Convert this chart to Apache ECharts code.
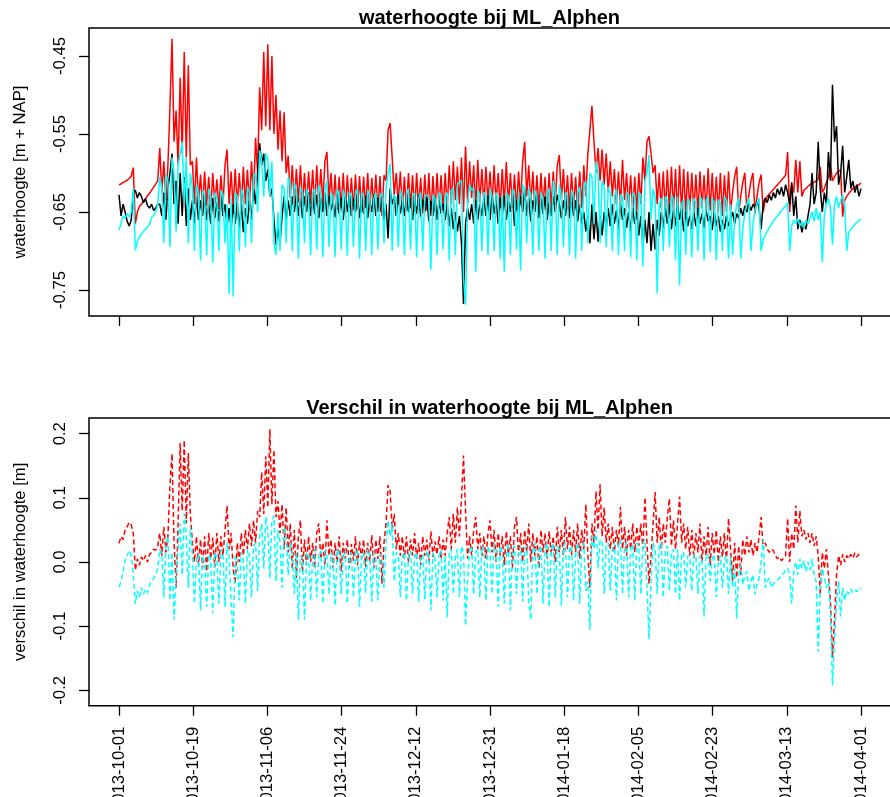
<!DOCTYPE html>
<html><head><meta charset="utf-8">
<script src="https://cdn.jsdelivr.net/npm/echarts@6/dist/echarts.min.js"></script>
<style>html,body{margin:0;padding:0;background:#fff}#c{width:890px;height:797px}</style>
</head><body><div id="c"></div>
<script>
// ---- data (sampled every 12 hours from 2013-10-01) ----
const startDate = '2013-10-01';
const stepDays = 0.5;

const redTop = [
-0.615,-0.614,-0.612,-0.611,-0.609,-0.607,-0.604,-0.593,-0.665,-0.650,-0.643,-0.640,-0.636,-0.633,-0.629,-0.626,-0.622,-0.618,-0.614,-0.610,
-0.568,-0.625,-0.585,-0.635,-0.590,-0.515,-0.428,-0.560,-0.520,-0.590,-0.478,-0.575,-0.445,-0.580,-0.462,-0.590,-0.585,-0.640,-0.580,-0.638,
-0.602,-0.645,-0.598,-0.642,-0.605,-0.648,-0.600,-0.640,-0.608,-0.646,-0.603,-0.642,-0.590,-0.570,-0.640,-0.598,-0.645,-0.595,-0.642,-0.600,
-0.645,-0.592,-0.640,-0.596,-0.642,-0.585,-0.630,-0.555,-0.600,-0.490,-0.545,-0.445,-0.540,-0.435,-0.545,-0.450,-0.550,-0.500,-0.570,-0.520,
-0.585,-0.522,-0.600,-0.578,-0.632,-0.590,-0.640,-0.595,-0.638,-0.590,-0.642,-0.600,-0.645,-0.598,-0.640,-0.596,-0.645,-0.590,-0.638,-0.595,
-0.640,-0.585,-0.573,-0.635,-0.600,-0.645,-0.602,-0.648,-0.605,-0.645,-0.600,-0.650,-0.603,-0.645,-0.606,-0.648,-0.602,-0.646,-0.604,-0.650,
-0.605,-0.645,-0.600,-0.648,-0.606,-0.644,-0.602,-0.650,-0.604,-0.655,-0.603,-0.610,-0.545,-0.536,-0.580,-0.628,-0.600,-0.640,-0.598,-0.645,
-0.605,-0.648,-0.600,-0.645,-0.603,-0.650,-0.600,-0.646,-0.606,-0.652,-0.602,-0.648,-0.600,-0.655,-0.604,-0.650,-0.600,-0.645,-0.603,-0.648,
-0.600,-0.645,-0.590,-0.640,-0.585,-0.635,-0.592,-0.640,-0.580,-0.650,-0.566,-0.640,-0.585,-0.632,-0.590,-0.645,-0.583,-0.638,-0.595,-0.640,
-0.592,-0.638,-0.598,-0.642,-0.590,-0.640,-0.600,-0.645,-0.595,-0.640,-0.586,-0.642,-0.600,-0.645,-0.602,-0.648,-0.598,-0.640,-0.585,-0.560,
-0.630,-0.590,-0.640,-0.598,-0.645,-0.603,-0.648,-0.600,-0.645,-0.605,-0.650,-0.600,-0.645,-0.598,-0.640,-0.590,-0.577,-0.635,-0.595,-0.642,
-0.603,-0.648,-0.600,-0.645,-0.605,-0.650,-0.598,-0.645,-0.590,-0.630,-0.575,-0.545,-0.514,-0.560,-0.600,-0.568,-0.610,-0.570,-0.615,-0.575,
-0.625,-0.585,-0.630,-0.595,-0.640,-0.598,-0.642,-0.583,-0.635,-0.600,-0.645,-0.603,-0.648,-0.605,-0.650,-0.600,-0.640,-0.580,-0.610,-0.560,
-0.553,-0.575,-0.600,-0.590,-0.640,-0.600,-0.645,-0.598,-0.650,-0.596,-0.648,-0.592,-0.650,-0.595,-0.655,-0.590,-0.650,-0.595,-0.652,-0.598,
-0.648,-0.600,-0.650,-0.602,-0.652,-0.598,-0.645,-0.603,-0.650,-0.594,-0.648,-0.600,-0.652,-0.605,-0.650,-0.600,-0.655,-0.603,-0.650,-0.598,
-0.650,-0.625,-0.605,-0.592,-0.650,-0.630,-0.612,-0.600,-0.648,-0.628,-0.610,-0.600,-0.652,-0.630,-0.612,-0.602,-0.650,-0.635,-0.630,-0.627,
-0.624,-0.621,-0.618,-0.615,-0.612,-0.609,-0.606,-0.603,-0.573,-0.650,-0.615,-0.625,-0.583,-0.625,-0.585,-0.630,-0.622,-0.620,-0.617,-0.615,
-0.613,-0.612,-0.610,-0.608,-0.592,-0.625,-0.620,-0.612,-0.606,-0.590,-0.610,-0.605,-0.600,-0.598,-0.596,-0.656,-0.635,-0.630,-0.626,-0.623,-0.620,-0.618,-0.616,-0.615,-0.613
];

const blackTop = [
-0.628,-0.655,-0.640,-0.650,-0.662,-0.668,-0.660,-0.625,-0.622,-0.632,-0.625,-0.630,-0.638,-0.633,-0.642,-0.645,-0.640,-0.648,-0.645,-0.640,
-0.640,-0.655,-0.625,-0.660,-0.620,-0.600,-0.575,-0.640,-0.610,-0.665,-0.600,-0.655,-0.605,-0.668,-0.620,-0.660,-0.635,-0.665,-0.630,-0.660,
-0.635,-0.655,-0.630,-0.660,-0.640,-0.665,-0.632,-0.658,-0.638,-0.662,-0.630,-0.655,-0.640,-0.668,-0.645,-0.672,-0.640,-0.665,-0.638,-0.670,
-0.640,-0.676,-0.645,-0.665,-0.635,-0.660,-0.620,-0.640,-0.600,-0.562,-0.590,-0.575,-0.610,-0.595,-0.630,-0.620,-0.660,-0.692,-0.670,-0.690,
-0.655,-0.630,-0.660,-0.635,-0.655,-0.630,-0.650,-0.628,-0.655,-0.632,-0.658,-0.630,-0.650,-0.625,-0.655,-0.630,-0.652,-0.628,-0.658,-0.632,
-0.650,-0.625,-0.655,-0.630,-0.648,-0.635,-0.657,-0.628,-0.652,-0.632,-0.660,-0.630,-0.650,-0.627,-0.655,-0.633,-0.650,-0.628,-0.658,-0.635,
-0.652,-0.630,-0.658,-0.635,-0.650,-0.628,-0.655,-0.632,-0.650,-0.630,-0.660,-0.640,-0.684,-0.620,-0.640,-0.630,-0.655,-0.628,-0.652,-0.635,
-0.655,-0.630,-0.650,-0.632,-0.660,-0.635,-0.652,-0.628,-0.656,-0.634,-0.650,-0.630,-0.662,-0.636,-0.655,-0.630,-0.660,-0.635,-0.652,-0.640,
-0.660,-0.640,-0.668,-0.645,-0.672,-0.650,-0.675,-0.655,-0.690,-0.768,-0.665,-0.645,-0.660,-0.640,-0.665,-0.635,-0.660,-0.640,-0.655,-0.632,
-0.655,-0.630,-0.660,-0.628,-0.652,-0.635,-0.665,-0.632,-0.655,-0.630,-0.660,-0.636,-0.650,-0.628,-0.668,-0.635,-0.655,-0.630,-0.650,-0.620,
-0.655,-0.632,-0.662,-0.635,-0.650,-0.628,-0.658,-0.633,-0.652,-0.630,-0.660,-0.638,-0.655,-0.630,-0.650,-0.628,-0.640,-0.658,-0.635,-0.655,
-0.632,-0.658,-0.630,-0.655,-0.635,-0.662,-0.640,-0.665,-0.650,-0.675,-0.655,-0.690,-0.640,-0.685,-0.650,-0.688,-0.655,-0.680,-0.650,-0.670,
-0.645,-0.668,-0.640,-0.665,-0.648,-0.672,-0.640,-0.660,-0.645,-0.670,-0.650,-0.675,-0.645,-0.665,-0.650,-0.680,-0.655,-0.695,-0.660,-0.690,
-0.650,-0.700,-0.665,-0.698,-0.660,-0.680,-0.650,-0.670,-0.645,-0.665,-0.640,-0.672,-0.648,-0.668,-0.640,-0.660,-0.645,-0.675,-0.650,-0.668,
-0.655,-0.672,-0.650,-0.668,-0.645,-0.665,-0.652,-0.670,-0.648,-0.662,-0.655,-0.673,-0.650,-0.668,-0.655,-0.675,-0.660,-0.672,-0.655,-0.668,
-0.660,-0.650,-0.665,-0.652,-0.658,-0.645,-0.655,-0.642,-0.650,-0.640,-0.648,-0.640,-0.645,-0.636,-0.645,-0.672,-0.640,-0.632,-0.638,-0.628,
-0.635,-0.625,-0.632,-0.620,-0.628,-0.618,-0.630,-0.615,-0.625,-0.640,-0.612,-0.655,-0.630,-0.672,-0.660,-0.676,-0.665,-0.672,-0.655,-0.640,
-0.600,-0.640,-0.625,-0.560,-0.620,-0.650,-0.625,-0.640,-0.573,-0.610,-0.487,-0.560,-0.540,-0.615,-0.600,-0.565,-0.625,-0.605,-0.583,-0.620,-0.610,-0.625,-0.615,-0.630,-0.620
];

const cyanTop = [
-0.673,-0.665,-0.655,-0.658,-0.652,-0.656,-0.650,-0.620,-0.699,-0.688,-0.682,-0.678,-0.675,-0.672,-0.669,-0.666,-0.657,-0.654,-0.650,-0.640,
-0.605,-0.618,-0.690,-0.600,-0.612,-0.695,-0.580,-0.600,-0.675,-0.590,-0.575,-0.560,-0.640,-0.580,-0.690,-0.600,-0.618,-0.700,-0.615,-0.625,
-0.712,-0.622,-0.628,-0.705,-0.620,-0.630,-0.715,-0.625,-0.632,-0.700,-0.622,-0.628,-0.690,-0.640,-0.755,-0.632,-0.758,-0.625,-0.630,-0.700,
-0.620,-0.628,-0.695,-0.618,-0.625,-0.690,-0.605,-0.600,-0.650,-0.571,-0.585,-0.630,-0.575,-0.582,-0.630,-0.585,-0.690,-0.705,-0.650,-0.700,
-0.615,-0.620,-0.690,-0.605,-0.615,-0.700,-0.612,-0.622,-0.710,-0.618,-0.625,-0.690,-0.620,-0.630,-0.705,-0.625,-0.620,-0.698,-0.615,-0.628,
-0.708,-0.622,-0.610,-0.695,-0.625,-0.630,-0.708,-0.620,-0.628,-0.698,-0.622,-0.632,-0.706,-0.624,-0.630,-0.695,-0.628,-0.620,-0.710,-0.625,
-0.630,-0.700,-0.622,-0.628,-0.705,-0.632,-0.625,-0.698,-0.630,-0.625,-0.690,-0.620,-0.600,-0.588,-0.700,-0.628,-0.632,-0.695,-0.622,-0.630,
-0.705,-0.628,-0.620,-0.698,-0.630,-0.625,-0.708,-0.632,-0.625,-0.700,-0.630,-0.628,-0.632,-0.724,-0.628,-0.632,-0.705,-0.625,-0.630,-0.698,
-0.630,-0.625,-0.712,-0.622,-0.620,-0.705,-0.615,-0.612,-0.610,-0.735,-0.769,-0.640,-0.615,-0.622,-0.620,-0.727,-0.622,-0.628,-0.700,-0.625,
-0.628,-0.705,-0.620,-0.630,-0.700,-0.625,-0.632,-0.710,-0.628,-0.727,-0.625,-0.630,-0.705,-0.620,-0.628,-0.698,-0.625,-0.725,-0.615,-0.620,
-0.690,-0.620,-0.628,-0.705,-0.622,-0.630,-0.700,-0.625,-0.632,-0.710,-0.625,-0.620,-0.700,-0.610,-0.625,-0.705,-0.615,-0.628,-0.695,-0.625,
-0.628,-0.705,-0.622,-0.630,-0.710,-0.625,-0.618,-0.700,-0.618,-0.610,-0.690,-0.600,-0.605,-0.665,-0.585,-0.600,-0.690,-0.610,-0.618,-0.695,
-0.618,-0.625,-0.700,-0.630,-0.620,-0.705,-0.628,-0.630,-0.700,-0.625,-0.628,-0.708,-0.625,-0.630,-0.712,-0.625,-0.628,-0.720,-0.610,-0.600,
-0.577,-0.660,-0.620,-0.630,-0.754,-0.640,-0.632,-0.700,-0.630,-0.635,-0.695,-0.628,-0.635,-0.712,-0.630,-0.744,-0.640,-0.635,-0.705,-0.632,
-0.638,-0.708,-0.632,-0.638,-0.700,-0.630,-0.635,-0.712,-0.636,-0.630,-0.702,-0.632,-0.638,-0.712,-0.634,-0.638,-0.700,-0.630,-0.636,-0.710,
-0.640,-0.705,-0.660,-0.640,-0.632,-0.710,-0.672,-0.652,-0.640,-0.632,-0.700,-0.665,-0.648,-0.638,-0.632,-0.700,-0.685,-0.680,-0.675,-0.670,
-0.666,-0.662,-0.658,-0.655,-0.652,-0.648,-0.645,-0.642,-0.638,-0.700,-0.668,-0.660,-0.665,-0.658,-0.668,-0.662,-0.670,-0.660,-0.665,-0.658,
-0.650,-0.662,-0.645,-0.660,-0.650,-0.714,-0.655,-0.640,-0.632,-0.645,-0.692,-0.640,-0.630,-0.645,-0.635,-0.628,-0.640,-0.700,-0.676,-0.672,-0.669,-0.666,-0.663,-0.661,-0.659
];

const redDiff = [
0.029,0.040,0.035,0.050,0.055,0.062,0.058,0.045,-0.013,0.005,-0.005,0.008,0.002,0.010,0.000,0.012,0.015,0.020,0.018,0.025,
0.045,0.010,0.055,0.015,0.040,0.120,0.169,0.030,-0.040,0.060,0.185,0.080,0.190,0.060,0.170,0.075,0.030,0.000,0.040,-0.005,
0.035,-0.010,0.040,-0.015,0.045,0.005,0.038,-0.008,0.045,0.000,0.040,0.010,0.050,0.088,0.020,0.045,-0.010,-0.034,0.030,0.000,
0.045,0.010,0.050,0.020,0.060,0.025,0.065,0.030,0.080,0.070,0.140,0.075,0.165,0.085,0.207,0.090,0.175,0.070,0.095,0.045,
0.090,0.020,0.085,0.015,0.060,-0.010,0.050,-0.025,0.040,0.065,-0.015,0.035,-0.005,0.040,0.000,0.030,-0.010,0.045,0.060,0.005,
0.030,-0.005,0.065,0.010,0.035,-0.010,0.030,0.000,0.040,-0.015,0.030,0.005,0.035,-0.010,0.028,0.002,0.040,-0.005,0.032,0.005,
0.035,-0.008,0.030,0.000,0.042,-0.010,0.035,0.005,0.040,-0.034,0.030,0.060,0.120,0.110,0.050,0.075,0.020,0.045,0.010,0.040,
0.005,0.040,0.000,0.035,0.010,0.045,0.005,0.030,-0.005,0.040,0.010,0.035,0.000,0.048,0.008,0.032,0.012,0.040,0.005,0.035,
0.010,0.045,0.070,0.020,0.075,0.030,0.085,0.040,0.100,0.166,0.080,0.005,0.040,0.010,0.050,0.070,0.020,0.045,0.010,0.040,
0.005,0.045,0.065,0.015,0.050,0.000,0.045,0.010,0.040,-0.005,0.048,0.012,0.040,-0.010,0.055,0.070,0.010,0.045,0.000,0.050,
0.015,0.060,0.000,0.045,0.010,0.040,-0.010,0.050,0.015,0.045,0.005,0.048,0.012,0.040,0.000,0.055,0.015,0.050,0.010,0.070,
0.020,0.055,0.010,0.050,0.015,0.060,0.005,0.050,0.020,0.090,0.010,-0.040,0.060,0.030,0.110,0.050,0.121,0.040,0.085,0.030,
0.060,0.020,0.055,0.015,0.050,0.025,0.086,0.020,0.055,0.010,0.050,0.020,0.060,0.015,0.055,0.025,0.060,0.020,0.101,0.030,
-0.034,0.010,0.060,0.109,0.030,0.070,0.020,0.060,0.030,0.070,0.099,0.025,0.065,0.020,0.060,0.102,0.030,0.060,0.020,0.055,
0.010,0.050,0.005,0.045,0.015,0.060,0.000,0.040,0.010,0.055,-0.005,0.045,0.012,0.050,0.000,0.040,0.008,0.045,0.000,0.068,
0.020,-0.030,0.030,-0.025,0.025,-0.020,0.035,0.010,0.040,0.015,0.035,0.010,0.030,0.015,0.040,0.070,0.020,0.030,0.020,0.015,
0.020,0.018,0.010,0.005,0.008,0.002,0.006,0.010,0.068,0.000,0.045,0.020,0.088,0.030,0.080,0.040,0.050,0.035,0.045,0.030,
0.045,0.025,0.040,0.010,-0.050,0.015,-0.010,0.020,-0.020,-0.060,-0.150,-0.090,-0.020,0.010,-0.005,0.012,0.000,0.010,0.005,0.012,0.006,0.014,0.008,0.012,0.008
];

const cyanDiff = [
-0.039,-0.030,-0.015,0.003,0.010,0.018,0.012,-0.020,-0.065,-0.045,-0.055,-0.040,-0.050,-0.042,-0.048,-0.035,-0.030,-0.025,-0.020,-0.010,
0.020,0.010,-0.055,0.030,0.040,-0.060,0.015,-0.090,-0.020,0.020,0.060,-0.020,0.075,0.040,-0.040,0.055,0.010,-0.065,0.005,0.012,
-0.075,0.010,0.000,-0.070,0.012,0.005,-0.080,0.015,0.008,-0.065,0.020,0.012,-0.070,0.030,0.010,-0.060,-0.117,0.010,0.005,-0.060,
0.015,0.005,-0.065,0.020,0.010,-0.055,0.025,0.030,-0.045,0.040,0.060,-0.010,0.070,0.050,-0.025,0.065,0.072,-0.030,0.050,0.030,
-0.040,0.055,0.040,-0.020,0.030,0.015,-0.050,0.015,-0.090,0.010,0.005,-0.090,0.015,0.010,-0.060,0.010,0.020,-0.055,0.012,0.018,
-0.065,0.018,0.010,-0.050,0.015,0.005,-0.068,0.020,0.012,-0.050,0.010,0.018,-0.065,0.008,0.015,-0.055,0.012,0.020,-0.070,0.010,
0.015,-0.048,0.020,0.010,-0.062,0.015,0.005,-0.060,0.012,0.005,-0.040,0.030,0.065,0.040,0.060,-0.030,0.015,0.010,-0.055,0.010,
0.015,-0.060,0.008,0.018,-0.050,0.010,0.015,-0.062,0.005,0.012,-0.058,0.018,0.010,-0.075,0.015,0.005,-0.055,0.012,0.018,-0.060,
0.010,-0.086,0.015,0.020,-0.050,0.010,0.020,-0.055,0.025,0.015,-0.099,-0.030,0.020,0.025,-0.050,0.015,0.020,-0.055,0.025,0.015,
-0.060,0.025,0.015,-0.050,0.030,0.020,-0.070,0.025,0.015,-0.065,0.010,0.030,-0.075,0.020,0.025,-0.050,0.015,0.025,-0.062,0.020,
0.025,-0.060,-0.090,0.020,0.030,-0.050,0.015,0.025,-0.065,0.020,0.030,-0.070,0.018,0.030,-0.055,0.025,0.020,-0.068,0.025,0.030,
-0.055,0.020,0.025,-0.060,0.015,0.030,-0.065,0.020,0.030,-0.045,-0.030,-0.106,0.040,0.020,0.050,-0.010,0.035,0.030,-0.050,0.025,
0.030,-0.045,0.020,0.030,-0.060,0.025,0.035,-0.050,0.025,0.030,-0.055,0.020,0.028,-0.060,0.030,0.025,-0.050,0.030,0.035,-0.040,
-0.120,-0.030,0.030,0.020,-0.050,0.025,0.030,-0.055,0.020,0.025,-0.045,0.015,0.020,-0.050,0.020,-0.060,0.012,0.015,-0.040,0.010,
0.005,-0.045,0.012,0.008,-0.050,0.010,0.005,-0.085,0.010,0.012,-0.030,0.005,0.012,-0.055,0.000,0.010,-0.040,0.005,0.010,-0.050,
0.008,-0.040,-0.010,-0.088,-0.020,-0.005,-0.035,-0.020,-0.015,-0.045,-0.030,-0.020,-0.050,-0.035,-0.025,0.000,0.035,-0.040,-0.030,-0.025,
-0.040,-0.035,-0.030,-0.028,-0.025,-0.020,-0.018,-0.012,-0.010,-0.020,-0.065,-0.015,0.000,-0.020,0.005,-0.010,0.002,-0.015,0.000,-0.012,
0.005,-0.020,-0.030,-0.140,-0.040,-0.010,-0.025,-0.040,-0.030,-0.080,-0.192,-0.120,-0.060,-0.030,-0.085,-0.040,-0.060,-0.045,-0.050,-0.042,-0.048,-0.044,-0.046,-0.040,-0.042
];

// axis ticks (days after start) and their labels
const xTickDays = [0, 18.2, 36.4, 54.6, 72.8, 91, 109.2, 127.4, 145.6, 163.8, 182];
const xTickLabels = ['2013-10-01','2013-10-19','2013-11-06','2013-11-24','2013-12-12','2013-12-31','2014-01-18','2014-02-05','2014-02-23','2014-03-13','2014-04-01'];
const yTopTicks = [-0.75, -0.65, -0.55, -0.45];
const yTopLabels = ['-0.75','-0.65','-0.55','-0.45'];
const yBotTicks = [-0.2, -0.1, 0, 0.1, 0.2];
const yBotLabels = ['-0.2','-0.1','0.0','0.1','0.2'];

const titleTop = 'waterhoogte bij ML_Alphen';
const titleBot = 'Verschil in waterhoogte bij ML_Alphen';
const yNameTop = 'waterhoogte [m + NAP]';
const yNameBot = 'verschil in waterhoogte [m]';

// ---- chart ----
const FONT = '"Liberation Sans", Arial, sans-serif';
const FS = 16.7;
function pairs(arr){ return arr.map((v,i)=>[i*stepDays, v]); }
function lookup(ticks, labels){
  return function(v){ for (let k=0;k<ticks.length;k++){ if (Math.abs(ticks[k]-v)<1e-6) return labels[k]; } return ''; };
}
const lblStyle = {color:'#000', fontSize:FS, fontFamily:FONT};
const tickStyle = {color:'#000', width:1.3};
const chart = echarts.init(document.getElementById('c'), null, {renderer:'canvas'});
const gridCommon = {show:true, borderColor:'#000', borderWidth:1.5, backgroundColor:'transparent', containLabel:false, outerBoundsMode:'none'};
const axLine = {show:false, onZero:false};
const X_MIN = -7.36, X_MAX = 189.6;
const option = {
  animation:false, backgroundColor:'#ffffff',
  title:[
    {text:titleTop, left:489.5, top:8, textAlign:'center', padding:0, textStyle:{fontSize:20, fontWeight:'bold', color:'#000', fontFamily:FONT}},
    {text:titleBot, left:489.5, top:398, textAlign:'center', padding:0, textStyle:{fontSize:20, fontWeight:'bold', color:'#000', fontFamily:FONT}}
  ],
  grid:[
    Object.assign({left:89, top:28, width:803, height:288}, gridCommon),
    Object.assign({left:89, top:418, width:803, height:287.7}, gridCommon)
  ],
  xAxis:[
    {type:'value', gridIndex:0, min:X_MIN, max:X_MAX, axisLine:axLine, splitLine:{show:false},
     axisTick:{show:true, customValues:xTickDays, length:10, inside:false, lineStyle:tickStyle}, axisLabel:{show:false}},
    {type:'value', gridIndex:1, min:X_MIN, max:X_MAX, axisLine:axLine, splitLine:{show:false},
     axisTick:{show:true, customValues:xTickDays, length:10, inside:false, lineStyle:tickStyle},
     axisLabel:Object.assign({show:true, customValues:xTickDays, rotate:90, margin:21, formatter:lookup(xTickDays, xTickLabels)}, lblStyle)}
  ],
  yAxis:[
    {type:'value', gridIndex:0, min:-0.7833, max:-0.4141, name:yNameTop, nameLocation:'middle', nameGap:60, nameRotate:90,
     nameTextStyle:{color:'#000', fontSize:FS, fontFamily:FONT}, axisLine:axLine, splitLine:{show:false},
     axisTick:{show:true, customValues:yTopTicks, length:10, lineStyle:tickStyle},
     axisLabel:Object.assign({customValues:yTopTicks, rotate:90, margin:20, formatter:lookup(yTopTicks, yTopLabels)}, lblStyle)},
    {type:'value', gridIndex:1, min:-0.224, max:0.2245, name:yNameBot, nameLocation:'middle', nameGap:60, nameRotate:90,
     nameTextStyle:{color:'#000', fontSize:FS, fontFamily:FONT}, axisLine:axLine, splitLine:{show:false},
     axisTick:{show:true, customValues:yBotTicks, length:10, lineStyle:tickStyle},
     axisLabel:Object.assign({customValues:yBotTicks, rotate:90, margin:20, formatter:lookup(yBotTicks, yBotLabels)}, lblStyle)}
  ],
  series:[
    {type:'line', xAxisIndex:0, yAxisIndex:0, data:pairs(redTop), showSymbol:false, symbol:'none', lineStyle:{color:'#ff0000', width:1.5}},
    {type:'line', xAxisIndex:0, yAxisIndex:0, data:pairs(blackTop), showSymbol:false, symbol:'none', lineStyle:{color:'#000000', width:1.5}},
    {type:'line', xAxisIndex:0, yAxisIndex:0, data:pairs(cyanTop), showSymbol:false, symbol:'none', lineStyle:{color:'#00ffff', width:1.5}},
    {type:'line', xAxisIndex:1, yAxisIndex:1, data:pairs(redDiff), showSymbol:false, symbol:'none', lineStyle:{color:'#ff0000', width:1.5, type:[5,3]}},
    {type:'line', xAxisIndex:1, yAxisIndex:1, data:pairs(cyanDiff), showSymbol:false, symbol:'none', lineStyle:{color:'#00ffff', width:1.5, type:[5,3]}}
  ]
};
chart.setOption(option);
</script></body></html>
